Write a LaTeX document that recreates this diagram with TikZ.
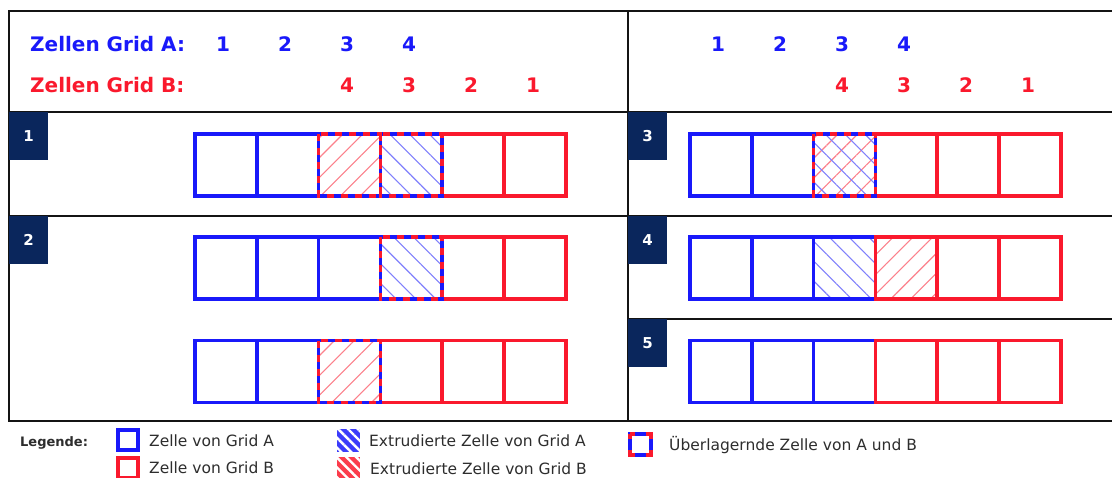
\documentclass[tikz,border=0pt]{standalone}
\usepackage{fontspec}
\setmainfont{DejaVu Sans}
\usetikzlibrary{patterns.meta}
\definecolor{gA}{RGB}{25,25,250}
\definecolor{gB}{RGB}{250,25,45}
\definecolor{navy}{RGB}{10,38,92}
\definecolor{framec}{RGB}{20,20,20}
\definecolor{txt}{RGB}{45,45,45}
\begin{document}
\begin{tikzpicture}[x=1pt,y=-1pt,
  cell/.style={rectangle, minimum size=61.8pt, inner sep=0pt, outer sep=0pt, line width=3.5pt},
  cellA/.style={cell, draw=gA},
  cellB/.style={cell, draw=gB},
  hatchB/.style={pattern={Lines[angle=45,distance=14pt,line width=1.1pt]}, pattern color=gB!55},
  hatchA/.style={pattern={Lines[angle=-45,distance=14pt,line width=1.1pt]}, pattern color=gA!55},
  ovl/.style={draw=gB, line width=3.5pt, dash pattern=on 7pt off 7pt},
  frameline/.style={draw=framec, line width=2.8pt},
  tab/.style={fill=navy, minimum width=39pt, minimum height=48pt, inner sep=0pt, outer sep=0pt, anchor=north west},
  tablabel/.style={text=white, font=\bfseries\fontsize{15}{18}\selectfont},
  hdrA/.style={text=gA, font=\bfseries\fontsize{20}{24}\selectfont, inner sep=0pt, anchor=base},
  hdrB/.style={text=gB, font=\bfseries\fontsize{20}{24}\selectfont, inner sep=0pt, anchor=base},
  legtext/.style={text=txt, font=\fontsize{15.5}{18}\selectfont, inner sep=0pt, anchor=base west},
  legbox/.style={rectangle, minimum size=20pt, inner sep=0pt, outer sep=0pt, line width=4pt},
  leghatch/.style={rectangle, minimum size=23pt, inner sep=0pt, outer sep=0pt}
]
\clip (0,0) rectangle (1112,477);
\fill[white] (0,0) rectangle (1112,477);

% frame
\draw[frameline] (9,11) rectangle (1120,421);
\draw[frameline] (9,112) -- (1120,112);
\draw[frameline] (9,216) -- (1120,216);
\draw[frameline] (628,319) -- (1120,319);
\draw[frameline] (628,11) -- (628,421);

% tabs
\node[tab] (t1) at (9,112) {};
\node[tablabel] at (t1.center) {1};
\node[tab] (t2) at (9,216) {};
\node[tablabel] at (t2.center) {2};
\node[tab] (t3) at (628,112) {};
\node[tablabel] at (t3.center) {3};
\node[tab] (t4) at (628,216) {};
\node[tablabel] at (t4.center) {4};
\node[tab] (t5) at (628,319) {};
\node[tablabel] at (t5.center) {5};

% header
\node[text=gA, font=\bfseries\fontsize{20}{24}\selectfont, inner sep=0pt, anchor=base west] (hA) at (30,51.5) {Zellen Grid A:};
\node[text=gB, font=\bfseries\fontsize{20}{24}\selectfont, inner sep=0pt, anchor=base west] (hB) at (30,92.5) {Zellen Grid B:};
\node[hdrA] (la1) at (223,51.5) {1};
\node[hdrA] (la2) at (285,51.5) {2};
\node[hdrA] (la3) at (347,51.5) {3};
\node[hdrA] (la4) at (409,51.5) {4};
\node[hdrB] (lb4) at (347,92.5) {4};
\node[hdrB] (lb3) at (409,92.5) {3};
\node[hdrB] (lb2) at (471,92.5) {2};
\node[hdrB] (lb1) at (533,92.5) {1};
\node[hdrA] (ra1) at (718,51.5) {1};
\node[hdrA] (ra2) at (780,51.5) {2};
\node[hdrA] (ra3) at (842,51.5) {3};
\node[hdrA] (ra4) at (904,51.5) {4};
\node[hdrB] (rb4) at (842,92.5) {4};
\node[hdrB] (rb3) at (904,92.5) {3};
\node[hdrB] (rb2) at (966,92.5) {2};
\node[hdrB] (rb1) at (1028,92.5) {1};

% ---- Panel 1 ----
\foreach \i in {1,2} \node[cellA] (P1-\i) at ({164.1+61.8*\i},165) {};
\foreach \i in {5,6} \node[cellB] (P1-\i) at ({164.1+61.8*\i},165) {};
\node[cellA,hatchB] (P1-3) at ({164.1+61.8*3},165) {};
\node[cellA,hatchA] (P1-4) at ({164.1+61.8*4},165) {};
\draw[ovl] (P1-3.north west) rectangle (P1-3.south east);
\draw[ovl] (P1-4.north west) rectangle (P1-4.south east);

% ---- Panel 2a ----
\foreach \i in {1,2,3} \node[cellA] (P2a-\i) at ({164.1+61.8*\i},268) {};
\foreach \i in {5,6} \node[cellB] (P2a-\i) at ({164.1+61.8*\i},268) {};
\node[cellA,hatchA] (P2a-4) at ({164.1+61.8*4},268) {};
\draw[ovl] (P2a-4.north west) rectangle (P2a-4.south east);

% ---- Panel 2b ----
\foreach \i in {1,2} \node[cellA] (P2b-\i) at ({164.1+61.8*\i},371.5) {};
\foreach \i in {4,5,6} \node[cellB] (P2b-\i) at ({164.1+61.8*\i},371.5) {};
\node[cellA,hatchB] (P2b-3) at ({164.1+61.8*3},371.5) {};
\draw[ovl] (P2b-3.north west) rectangle (P2b-3.south east);

% ---- Panel 3 ----
\foreach \i in {1,2} \node[cellA] (P3-\i) at ({659.1+61.8*\i},165) {};
\foreach \i in {4,5,6} \node[cellB] (P3-\i) at ({659.1+61.8*\i},165) {};
\node[cellA,hatchB] (P3-3) at ({659.1+61.8*3},165) {};
\fill[hatchA] (P3-3.north west) rectangle (P3-3.south east);
\draw[gA, line width=3.5pt] (P3-3.north west) rectangle (P3-3.south east);
\draw[ovl] (P3-3.north west) rectangle (P3-3.south east);

% ---- Panel 4 ----
\foreach \i in {1,2} \node[cellA] (P4-\i) at ({659.1+61.8*\i},268) {};
\node[cellA,hatchA] (P4-3) at ({659.1+61.8*3},268) {};
\node[cellB,hatchB] (P4-4) at ({659.1+61.8*4},268) {};
\foreach \i in {5,6} \node[cellB] (P4-\i) at ({659.1+61.8*\i},268) {};

% ---- Panel 5 ----
\foreach \i in {1,2,3} \node[cellA] (P5-\i) at ({659.1+61.8*\i},371.5) {};
\foreach \i in {4,5,6} \node[cellB] (P5-\i) at ({659.1+61.8*\i},371.5) {};

% ---- Legend ----
\node[text=txt, font=\bfseries\fontsize{13}{16}\selectfont, inner sep=0pt, anchor=base west] (leg) at (20,446) {Legende:};
\node[legbox, draw=gA] (iA) at (128,440) {};
\node[legtext] (tA) at (149,446) {Zelle von Grid A};
\node[legbox, draw=gB] (iB) at (128,468) {};
\node[legtext] (tB) at (149,473.5) {Zelle von Grid B};

\node[leghatch, fill=gA!85] (iHA) at (348.5,440.5) {};
\fill[pattern={Lines[angle=-45,distance=7pt,line width=2.4pt]}, pattern color=white] (iHA.north west) rectangle (iHA.south east);
\node[legtext] (tHA) at (369,446.5) {Extrudierte Zelle von Grid A};
\node[leghatch, fill=gB!85] (iHB) at (348.5,468.5) {};
\fill[pattern={Lines[angle=-45,distance=7pt,line width=2.4pt]}, pattern color=white] (iHB.north west) rectangle (iHB.south east);
\node[legtext] (tHB) at (370,474.5) {Extrudierte Zelle von Grid B};

\node[legbox, minimum size=21pt, draw=gA] (iO) at (640,444) {};
\draw[draw=gB, line width=4pt, dash pattern=on 5pt off 11pt on 5pt off 0pt] (iO.north west) rectangle (iO.south east);
\node[legtext] (tO) at (669,450) {Überlagernde Zelle von A und B};
\end{tikzpicture}
\end{document}
